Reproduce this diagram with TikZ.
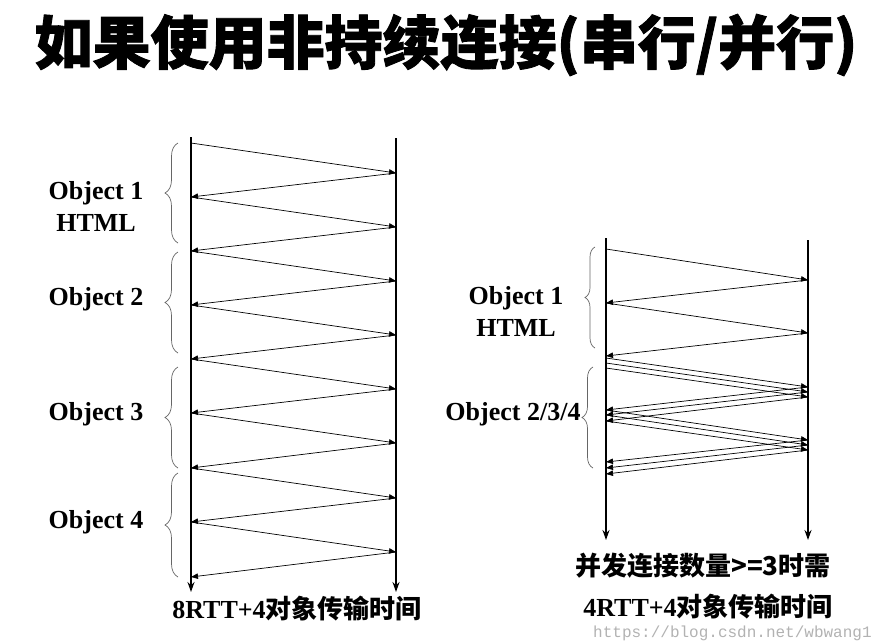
\documentclass[tikz,border=0pt]{standalone}
\usepackage{fontspec}
\setmainfont{Liberation Serif}
\setmonofont{Liberation Mono}
\newfontfamily\cjk{Noto Sans CJK SC}
\newfontfamily\cjktitle{Noto Sans CJK SC}[BoldFeatures={FakeBold=1.5}]
\usetikzlibrary{arrows.meta, calc, decorations.pathreplacing}

\begin{document}
\begin{tikzpicture}[
	x=1pt, y=-1pt,
	lifeline/.style={line width=1.6pt, -{Stealth[length=10pt, width=7pt]}},
	msg/.style={line width=0.7pt, -{Triangle[length=7pt, width=5.5pt]}},
	groupbrace/.style={draw=black!60, line width=0.7pt, decorate, decoration={brace, amplitude=#1}},
	groupbrace/.default=12pt,
	objlabel/.style={font=\fontsize{26}{32}\selectfont\bfseries, align=center},
	note/.style={font=\fontsize{26}{30}\selectfont\bfseries}
	]
	\useasboundingbox (0,0) rectangle (883,643);
	
	% Title
	\node (title) at (446,45) {\cjktitle\bfseries\fontsize{58}{58}\selectfont 如果使用非持续连接(串行/并行)};
	
	%
	% Serial connections (left)
	%
	\coordinate (client_top) at (191,137);
	\coordinate (client_bottom) at (191,592);
	\coordinate (server_top) at (396,138);
	\coordinate (server_bottom) at (396,592);
	\draw[lifeline] (client_top) -- (client_bottom);
	\draw[lifeline] (server_top) -- (server_bottom);
	
	% send / receive points on the lifelines
	\coordinate (c_1) at ($(client_top)+(0,6)$);
	\coordinate (s_1) at ($(server_top)+(0,35)$);
	\coordinate (c_2) at ($(client_top)+(0,60)$);
	\coordinate (s_2) at ($(server_top)+(0,89)$);
	\coordinate (c_3) at ($(client_top)+(0,114)$);
	\coordinate (s_3) at ($(server_top)+(0,143)$);
	\coordinate (c_4) at ($(client_top)+(0,168)$);
	\coordinate (s_4) at ($(server_top)+(0,197)$);
	\coordinate (c_5) at ($(client_top)+(0,222)$);
	\coordinate (s_5) at ($(server_top)+(0,251)$);
	\coordinate (c_6) at ($(client_top)+(0,276)$);
	\coordinate (s_6) at ($(server_top)+(0,305)$);
	\coordinate (c_7) at ($(client_top)+(0,331)$);
	\coordinate (s_7) at ($(server_top)+(0,360)$);
	\coordinate (c_8) at ($(client_top)+(0,385)$);
	\coordinate (s_8) at ($(server_top)+(0,414)$);
	\coordinate (c_9) at ($(client_top)+(0,440)$);
	
	% zigzag of requests and replies
	\draw[msg] (c_1) -- (s_1);
	\draw[msg] (s_1) -- (c_2);
	\draw[msg] (c_2) -- (s_2);
	\draw[msg] (s_2) -- (c_3);
	\draw[msg] (c_3) -- (s_3);
	\draw[msg] (s_3) -- (c_4);
	\draw[msg] (c_4) -- (s_4);
	\draw[msg] (s_4) -- (c_5);
	\draw[msg] (c_5) -- (s_5);
	\draw[msg] (s_5) -- (c_6);
	\draw[msg] (c_6) -- (s_6);
	\draw[msg] (s_6) -- (c_7);
	\draw[msg] (c_7) -- (s_7);
	\draw[msg] (s_7) -- (c_8);
	\draw[msg] (c_8) -- (s_8);
	\draw[msg] (s_8) -- (c_9);
	
	% braces and object labels
	\draw[groupbrace=13pt] (178,243) -- (178,143);
	\draw[groupbrace=13pt] (178,353) -- (178,252);
	\draw[groupbrace=13pt] (178,468) -- (178,367);
	\draw[groupbrace=13pt] (178,577) -- (178,473);
	\node[objlabel] (object_1) at (96,206) {Object 1\\HTML};
	\node[objlabel] (object_2) at (96,299) {Object 2};
	\node[objlabel] (object_3) at (96,414) {Object 3};
	\node[objlabel] (object_4) at (96,522) {Object 4};
	
	\node[note] (serial_time) at (297,609) {8RTT+4\cjk 对象传输时间};
	
	%
	% Parallel connections (right)
	%
	\coordinate (par_client_top) at (606,238);
	\coordinate (par_client_bottom) at (606,540);
	\coordinate (par_server_top) at (808,240);
	\coordinate (par_server_bottom) at (808,540);
	\draw[lifeline] (par_client_top) -- (par_client_bottom);
	\draw[lifeline] (par_server_top) -- (par_server_bottom);
	
	% HTML object
	\coordinate (pc_1) at (606,249);
	\coordinate (ps_1) at (808,280);
	\coordinate (pc_2) at (606,303);
	\coordinate (ps_2) at (808,333);
	\coordinate (pc_3) at (606,356);
	\draw[msg] (pc_1) -- (ps_1);
	\draw[msg] (ps_1) -- (pc_2);
	\draw[msg] (pc_2) -- (ps_2);
	\draw[msg] (ps_2) -- (pc_3);
	
	% three connections side by side
	\coordinate (ra_1) at (606,358);
	\coordinate (ra_2) at (606,363);
	\coordinate (ra_3) at (606,368);
	\coordinate (rb_1) at (808,387);
	\coordinate (rb_2) at (808,392);
	\coordinate (rb_3) at (808,397);
	\coordinate (rc_1) at (606,410);
	\coordinate (rc_2) at (606,415);
	\coordinate (rc_3) at (606,421);
	\coordinate (rd_1) at (808,440);
	\coordinate (rd_2) at (808,445);
	\coordinate (rd_3) at (808,450);
	\coordinate (re_1) at (606,462);
	\coordinate (re_2) at (606,468);
	\coordinate (re_3) at (606,474);
	
	\draw[msg] (ra_1) -- (rb_1);
	\draw[msg] (ra_2) -- (rb_2);
	\draw[msg] (ra_3) -- (rb_3);
	\draw[msg] (rb_1) -- (rc_1);
	\draw[msg] (rb_2) -- (rc_2);
	\draw[msg] (rb_3) -- (rc_3);
	\draw[msg] (rc_1) -- (rd_1);
	\draw[msg] (rc_2) -- (rd_2);
	\draw[msg] (rc_3) -- (rd_3);
	\draw[msg] (rd_1) -- (re_1);
	\draw[msg] (rd_2) -- (re_2);
	\draw[msg] (rd_3) -- (re_3);
	
	% braces and object labels
	\draw[groupbrace=10pt] (595,348) -- (595,247);
	\draw[groupbrace=11pt] (593,468) -- (593,367);
	\node[objlabel] (par_object_1) at (516,311) {Object 1\\HTML};
	\node[objlabel] (par_object_234) at (513,414) {Object 2/3/4};
	
	\node[note] (par_condition) at (703,566) {\cjk 并发连接数量>=3时需};
	\node[note] (par_time) at (708,607) {4RTT+4\cjk 对象传输时间};
	
	\node[anchor=west, text=black!30, inner sep=1pt, font=\ttfamily\fontsize{16}{16}\selectfont] (watermark) at (592,633) {https://blog.csdn.net/wbwang1};
	
\end{tikzpicture}
\end{document}
